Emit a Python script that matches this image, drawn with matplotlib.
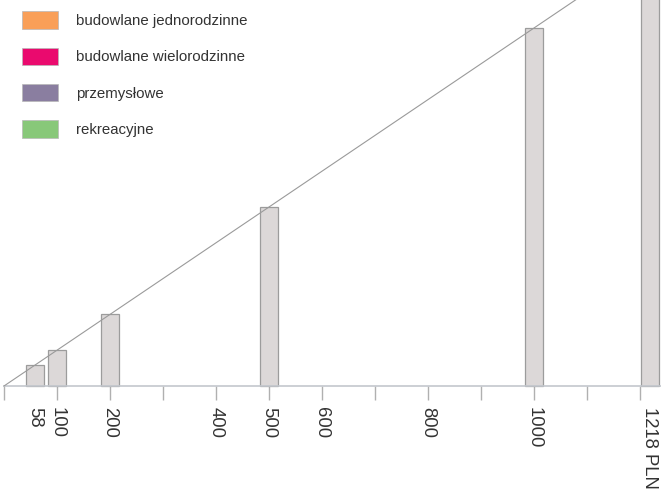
import matplotlib.pyplot as plt
from matplotlib.patches import Patch

plt.rcParams['font.family'] = ['Liberation Sans', 'DejaVu Sans']

# data
prices = [58, 100, 200, 500, 1000, 1218]
heights = [58, 100, 200, 500, 1000, 1218]
tick_pos = [58, 100, 200, 400, 500, 600, 800, 1000, 1218]
tick_labels = ['58', '100', '200', '400', '500', '600', '800', '1000', '1218 PLN']
grid_ticks = list(range(0, 1300, 100))

legend_labels = ['budowlane jednorodzinne', 'budowlane wielorodzinne',
                 'przemysłowe', 'rekreacyjne']
legend_colors = ['#f99f58', '#ea0a6e', '#8a7ea0', '#88c879']

fig = plt.figure(figsize=(6.61, 4.9), dpi=100)
ax = fig.add_axes([0, 0, 1, 1])

# px = 4 + 0.53*v ; height px = 0.358*v, axis at y=386
sx = 0.53
sy = 0.358
ax.set_xlim(-4 / sx, (661 - 4) / sx)
ax.set_ylim(-(490 - 386) / sy, 386 / sy)

ax.bar(prices, heights, width=34, color='#dcd8d8', edgecolor='#9c9c9c',
       linewidth=0.9, zorder=2)

# diagonal reference line
ax.plot([0, 1300], [0, 1300], color='#9a9a9a', lw=0.8, zorder=3)

for s in ['top', 'right', 'left']:
    ax.spines[s].set_visible(False)
ax.spines['bottom'].set_position(('data', 0))
ax.spines['bottom'].set_bounds(0, 1300)
ax.spines['bottom'].set_color('#c3c7cd')
ax.spines['bottom'].set_linewidth(1.2)
ax.set_yticks([])

ax.xaxis.remove_overlapping_locs = False
ax.set_xticks(tick_pos)
ax.set_xticklabels(tick_labels, rotation=270, fontsize=13.3, color='#333333')
ax.tick_params(axis='x', which='major', length=0, pad=15)
ax.set_xticks(grid_ticks, minor=True)
ax.tick_params(axis='x', which='minor', length=10, width=1, color='#b0b0b0')

handles = [Patch(facecolor=c, edgecolor='#b8b8b8', linewidth=0.5) for c in legend_colors]
leg = ax.legend(handles, legend_labels, loc='upper left', bbox_to_anchor=(0.033, 0.977),
                frameon=False, fontsize=10.8, handlelength=2.4, handleheight=1.4,
                handletextpad=1.2, labelspacing=1.27, borderaxespad=0, borderpad=0)
for t in leg.get_texts():
    t.set_color('#333333')

fig.savefig('out.png', dpi=100)
